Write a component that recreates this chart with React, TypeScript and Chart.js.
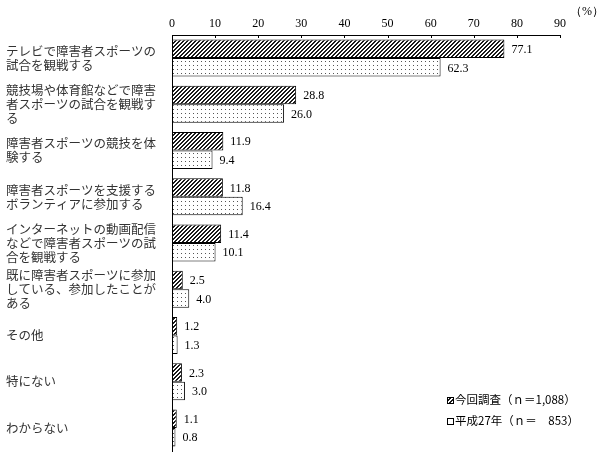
import React, { useEffect, useRef } from "react";
import { Chart, registerables } from "chart.js";

Chart.register(...registerables);

const categories: string[][] = [
  ["テレビで障害者スポーツの", "試合を観戦する"],
  ["競技場や体育館などで障害", "者スポーツの試合を観戦す", "る"],
  ["障害者スポーツの競技を体", "験する"],
  ["障害者スポーツを支援する", "ボランティアに参加する"],
  ["インターネットの動画配信", "などで障害者スポーツの試", "合を観戦する"],
  ["既に障害者スポーツに参加", "している、参加したことが", "ある"],
  ["その他"],
  ["特にない"],
  ["わからない"],
];

const currentSurvey: number[] = [77.1, 28.8, 11.9, 11.8, 11.4, 2.5, 1.2, 2.3, 1.1];
const h27Survey: number[] = [62.3, 26.0, 9.4, 16.4, 10.1, 4.0, 1.3, 3.0, 0.8];

const seriesNames: string[] = ["今回調査（ｎ＝1,088）", "平成27年（ｎ＝　853）"];
const xTicks: number[] = [0, 10, 20, 30, 40, 50, 60, 70, 80, 90];
const unitLabel = "（%）";

function makeHatch(ctx: CanvasRenderingContext2D): CanvasPattern {
  const c = document.createElement("canvas");
  c.width = 4;
  c.height = 4;
  const g = c.getContext("2d")!;
  g.fillStyle = "#ffffff";
  g.fillRect(0, 0, 4, 4);
  g.fillStyle = "#1a1a1a";
  for (let x = 0; x < 4; x++) {
    for (let y = 0; y < 4; y++) {
      const k = (x + y) % 4;
      if (k === 0 || k === 3) g.fillRect(x, y, 1, 1);
    }
  }
  return ctx.createPattern(c, "repeat")!;
}

function makeDots(ctx: CanvasRenderingContext2D): CanvasPattern {
  const c = document.createElement("canvas");
  c.width = 4;
  c.height = 4;
  const g = c.getContext("2d")!;
  g.fillStyle = "#ffffff";
  g.fillRect(0, 0, 4, 4);
  g.fillStyle = "#555555";
  g.fillRect(1, 1, 1, 1);
  return ctx.createPattern(c, "repeat")!;
}

export default function App() {
  const ref = useRef<HTMLCanvasElement | null>(null);

  useEffect(() => {
    document.body.style.margin = "0";
    const canvas = ref.current!;
    const ctx = canvas.getContext("2d")!;
    const hatch = makeHatch(ctx);
    const dots = makeDots(ctx);
    const numFont = "12px 'Liberation Serif', serif";

    const valueLabels = {
      id: "valueLabels",
      afterDatasetsDraw(chart: any) {
        const c = chart.ctx;
        c.save();
        c.font = numFont;
        c.fillStyle = "#000";
        c.textAlign = "left";
        c.textBaseline = "middle";
        chart.data.datasets.forEach((ds: any, di: number) => {
          const meta = chart.getDatasetMeta(di);
          meta.data.forEach((bar: any, i: number) => {
            c.fillText(Number(ds.data[i]).toFixed(1), bar.x + 7, bar.y + 1);
          });
        });
        c.restore();
      },
    };

    const extras = {
      id: "extras",
      afterDraw(chart: any) {
        const c = chart.ctx;
        const xs = chart.scales.x;
        const area = chart.chartArea;
        c.save();
        c.strokeStyle = "#000";
        c.lineWidth = 1;
        xTicks.forEach((v) => {
          const px = Math.round(xs.getPixelForValue(v)) + 0.5;
          c.beginPath();
          c.moveTo(px, area.top);
          c.lineTo(px, area.top + 3);
          c.stroke();
        });
        c.font = "12px 'Liberation Serif', serif";
        c.fillStyle = "#000";
        c.textAlign = "left";
        c.textBaseline = "middle";
        c.fillText(unitLabel, 570, 12);
        const fills = [hatch, "#ffffff"];
        const lx = 447;
        const ly = [400, 421];
        c.font = "11.5px 'Noto Sans CJK JP', sans-serif";
        seriesNames.forEach((name, i) => {
          c.fillStyle = fills[i];
          c.fillRect(lx, ly[i] - 3, 6, 6);
          c.strokeStyle = "#000";
          c.strokeRect(lx + 0.5, ly[i] - 3 + 0.5, 6, 6);
          c.fillStyle = "#000";
          c.fillText(name, lx + 8, ly[i]);
        });
        c.restore();
      },
    };

    const chart = new Chart(canvas, {
      type: "bar",
      data: {
        labels: categories,
        datasets: [
          {
            label: seriesNames[0],
            data: currentSurvey,
            backgroundColor: hatch,
            borderColor: "#000",
            borderWidth: 1,
            borderSkipped: false,
            categoryPercentage: 0.8,
            barPercentage: 1.0,
          },
          {
            label: seriesNames[1],
            data: h27Survey,
            backgroundColor: dots,
            borderColor: "#000",
            borderWidth: 1,
            borderSkipped: false,
            categoryPercentage: 0.8,
            barPercentage: 1.0,
          },
        ],
      },
      options: {
        indexAxis: "y",
        responsive: false,
        animation: false,
        layout: { padding: { left: 6, top: 0, right: 40, bottom: 7 } },
        plugins: {
          legend: { display: false },
          tooltip: { enabled: false },
        },
        scales: {
          x: {
            position: "top",
            min: 0,
            max: 90,
            afterBuildTicks(scale: any) {
              scale.ticks = xTicks.map((v) => ({ value: v }));
            },
            afterFit(scale: any) {
              scale.height = 35;
            },
            grid: { display: false, drawTicks: false },
            border: { display: true, color: "#000", width: 1 },
            ticks: {
              padding: 4,
              color: "#000",
              font: { family: "'Liberation Serif', serif", size: 12 },
            },
          },
          y: {
            afterFit(scale: any) {
              scale.width = 166;
            },
            grid: { display: false, drawTicks: false },
            border: { display: true, color: "#000", width: 1 },
            ticks: {
              crossAlign: "far",
              color: "#333",
              autoSkip: false,
              font: { family: "'Noto Sans CJK JP', sans-serif", size: 12.5, lineHeight: 1.12 },
            },
          },
        },
      },
      plugins: [valueLabels, extras],
    });
    return () => chart.destroy();
  }, []);

  return (
    <div style={{ width: 600, height: 468 }}>
      <canvas ref={ref} width={600} height={468} style={{ display: "block" }} />
    </div>
  );
}
